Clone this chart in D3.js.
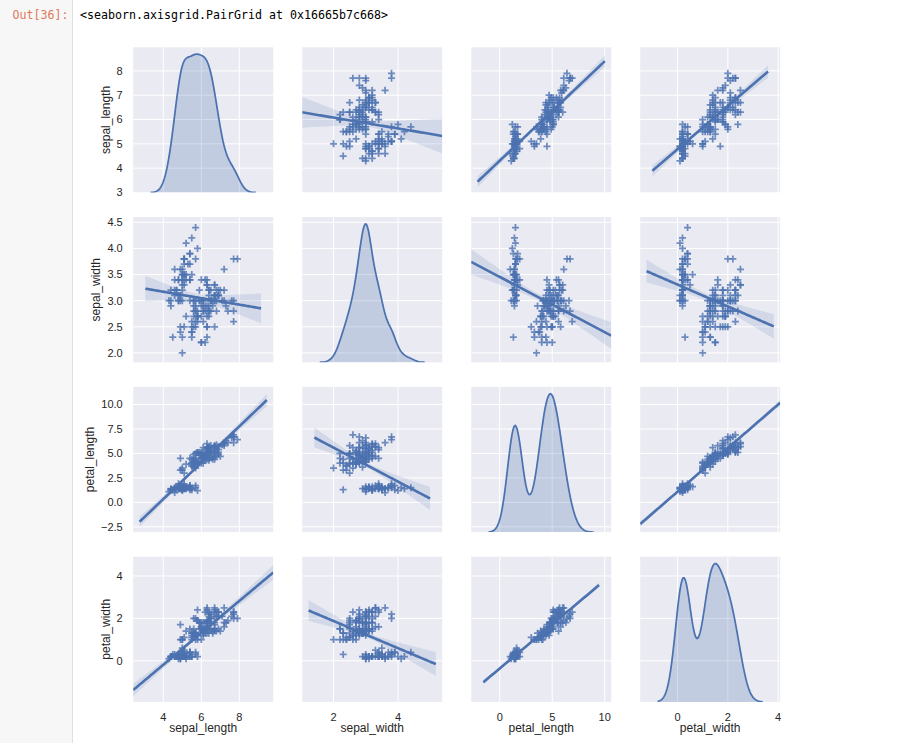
<!DOCTYPE html>
<html><head><meta charset="utf-8">
<script src="https://cdn.jsdelivr.net/npm/d3@7"></script>
<style>
body{margin:0;background:#fff;}
svg{display:block;}
text{font-family:"Liberation Sans",Arial,sans-serif;}
</style>
</head><body><svg id="c" width="913" height="743"></svg>
<script>
// ---------------- data (iris) ----------------
const sepal_length=[5.1,4.9,4.7,4.6,5.0,5.4,4.6,5.0,4.4,4.9,5.4,4.8,4.8,4.3,5.8,5.7,5.4,5.1,5.7,5.1,5.4,5.1,4.6,5.1,4.8,5.0,5.0,5.2,5.2,4.7,4.8,5.4,5.2,5.5,4.9,5.0,5.5,4.9,4.4,5.1,5.0,4.5,4.4,5.0,5.1,4.8,5.1,4.6,5.3,5.0,
7.0,6.4,6.9,5.5,6.5,5.7,6.3,4.9,6.6,5.2,5.0,5.9,6.0,6.1,5.6,6.7,5.6,5.8,6.2,5.6,5.9,6.1,6.3,6.1,6.4,6.6,6.8,6.7,6.0,5.7,5.5,5.5,5.8,6.0,5.4,6.0,6.7,6.3,5.6,5.5,5.5,6.1,5.8,5.0,5.6,5.7,5.7,6.2,5.1,5.7,
6.3,5.8,7.1,6.3,6.5,7.6,4.9,7.3,6.7,7.2,6.5,6.4,6.8,5.7,5.8,6.4,6.5,7.7,7.7,6.0,6.9,5.6,7.7,6.3,6.7,7.2,6.2,6.1,6.4,7.2,7.4,7.9,6.4,6.3,6.1,7.7,6.3,6.4,6.0,6.9,6.7,6.9,5.8,6.8,6.7,6.7,6.3,6.5,6.2,5.9];
const sepal_width=[3.5,3.0,3.2,3.1,3.6,3.9,3.4,3.4,2.9,3.1,3.7,3.4,3.0,3.0,4.0,4.4,3.9,3.5,3.8,3.8,3.4,3.7,3.6,3.3,3.4,3.0,3.4,3.5,3.4,3.2,3.1,3.4,4.1,4.2,3.1,3.2,3.5,3.6,3.0,3.4,3.5,2.3,3.2,3.5,3.8,3.0,3.8,3.2,3.7,3.3,
3.2,3.2,3.1,2.3,2.8,2.8,3.3,2.4,2.9,2.7,2.0,3.0,2.2,2.9,2.9,3.1,3.0,2.7,2.2,2.5,3.2,2.8,2.5,2.8,2.9,3.0,2.8,3.0,2.9,2.6,2.4,2.4,2.7,2.7,3.0,3.4,3.1,2.3,3.0,2.5,2.6,3.0,2.6,2.3,2.7,3.0,2.9,2.9,2.5,2.8,
3.3,2.7,3.0,2.9,3.0,3.0,2.5,2.9,2.5,3.6,3.2,2.7,3.0,2.5,2.8,3.2,3.0,3.8,2.6,2.2,3.2,2.8,2.8,2.7,3.3,3.2,2.8,3.0,2.8,3.0,2.8,3.8,2.8,2.8,2.6,3.0,3.4,3.1,3.0,3.1,3.1,3.1,2.7,3.2,3.3,3.0,2.5,3.0,3.4,3.0];
const petal_length=[1.4,1.4,1.3,1.5,1.4,1.7,1.4,1.5,1.4,1.5,1.5,1.6,1.4,1.1,1.2,1.5,1.3,1.4,1.7,1.5,1.7,1.5,1.0,1.7,1.9,1.6,1.6,1.5,1.4,1.6,1.6,1.5,1.5,1.4,1.5,1.2,1.3,1.4,1.3,1.5,1.3,1.3,1.3,1.6,1.9,1.4,1.6,1.4,1.5,1.4,
4.7,4.5,4.9,4.0,4.6,4.5,4.7,3.3,4.6,3.9,3.5,4.2,4.0,4.7,3.6,4.4,4.5,4.1,4.5,3.9,4.8,4.0,4.9,4.7,4.3,4.4,4.8,5.0,4.5,3.5,3.8,3.7,3.9,5.1,4.5,4.5,4.7,4.4,4.1,4.0,4.4,4.6,4.0,3.3,4.2,4.2,4.2,4.3,3.0,4.1,
6.0,5.1,5.9,5.6,5.8,6.6,4.5,6.3,5.8,6.1,5.1,5.3,5.5,5.0,5.1,5.3,5.5,6.7,6.9,5.0,5.7,4.9,6.7,4.9,5.7,6.0,4.8,4.9,5.6,5.8,6.1,6.4,5.6,5.1,5.6,6.1,5.6,5.5,4.8,5.4,5.6,5.1,5.1,5.9,5.7,5.2,5.0,5.2,5.4,5.1];
const petal_width=[0.2,0.2,0.2,0.2,0.2,0.4,0.3,0.2,0.2,0.1,0.2,0.2,0.1,0.1,0.2,0.4,0.4,0.3,0.3,0.3,0.2,0.4,0.2,0.5,0.2,0.2,0.4,0.2,0.2,0.2,0.2,0.4,0.1,0.2,0.2,0.2,0.2,0.1,0.2,0.2,0.3,0.3,0.2,0.6,0.4,0.3,0.2,0.2,0.2,0.2,
1.4,1.5,1.5,1.3,1.5,1.3,1.6,1.0,1.3,1.4,1.0,1.5,1.0,1.4,1.3,1.4,1.5,1.0,1.5,1.1,1.8,1.3,1.5,1.2,1.3,1.4,1.4,1.7,1.5,1.0,1.1,1.0,1.2,1.6,1.5,1.6,1.5,1.3,1.3,1.3,1.2,1.4,1.2,1.0,1.3,1.2,1.3,1.3,1.1,1.3,
2.5,1.9,2.1,1.8,2.2,2.1,1.7,1.8,1.8,2.5,2.0,1.9,2.1,2.0,2.4,2.3,1.8,2.2,2.3,1.5,2.3,2.0,2.0,1.8,2.1,1.8,1.8,1.8,2.1,1.6,1.9,2.0,2.2,1.5,1.4,2.3,2.4,1.8,1.8,2.1,2.4,2.3,1.9,2.3,2.5,2.3,1.9,2.0,2.3,1.8];

const varNames=["sepal_length","sepal_width","petal_length","petal_width"];
const xTickValues=[[4,6,8],[2,4],[0,5,10],[0,2,4]];
const yTickValues=[[3,4,5,6,7,8],[2.0,2.5,3.0,3.5,4.0,4.5],[-2.5,0.0,2.5,5.0,7.5,10.0],[0,2,4]];
const yTickDecimals=[0,1,1,0];
const rowLimits=[[3.0,8.97],[1.82,4.60],[-3.04,11.80],[-1.94,4.91]];
const promptText="Out[36]:";
const reprText="<seaborn.axisgrid.PairGrid at 0x16665b7c668>";

// ---------------- styling / layout ----------------
const BLUE="#4C72B0", BG="#EAEAF2", TXT="#262626";
const left0=133.2, colStep=169, W=140, top0=47.3, rowStep=169.8, H=145.2;

const svg=d3.select("#c");
// Jupyter chrome
svg.append("rect").attr("x",0).attr("y",0).attr("width",72).attr("height",743).attr("fill","#f7f7f7");
svg.append("line").attr("x1",72.5).attr("x2",72.5).attr("y1",0).attr("y2",743).attr("stroke","#e0e0e0");
svg.append("text").attr("x",12.5).attr("y",18.5).style("font-family","'DejaVu Sans Mono',monospace")
  .attr("font-size",12.5).attr("fill","#E0775A").attr("textLength",56).attr("lengthAdjust","spacingAndGlyphs").text(promptText);
svg.append("text").attr("x",80).attr("y",18.5).style("font-family","'DejaVu Sans Mono',monospace")
  .attr("font-size",12.5).attr("fill","#000").attr("textLength",308).attr("lengthAdjust","spacingAndGlyphs").text(reprText);

// ---------------- stats ----------------
const data=[sepal_length,sepal_width,petal_length,petal_width];
function bwScott(a){
  const s=a.slice().sort((p,q)=>p-q);
  const iqr=(d3.quantileSorted(s,0.75)-d3.quantileSorted(s,0.25))/1.349;
  return 1.059*Math.min(d3.deviation(a),iqr)*Math.pow(a.length,-0.2);
}
function kde(a){
  const bw=bwScott(a), lo=d3.min(a)-3*bw, hi=d3.max(a)+3*bw;
  return d3.range(100).map(k=>{const x=lo+(hi-lo)*k/99;
    return [x,d3.mean(a,v=>Math.exp(-0.5*((x-v)/bw)**2))/(bw*Math.sqrt(2*Math.PI))];});
}
function ols(x,y){
  const n=x.length,mx=d3.mean(x),my=d3.mean(y);let sxx=0,sxy=0;
  for(let k=0;k<n;k++){sxx+=(x[k]-mx)**2;sxy+=(x[k]-mx)*(y[k]-my);}
  const b=sxy/sxx,a=my-b*mx;let sse=0;
  for(let k=0;k<n;k++)sse+=(y[k]-a-b*x[k])**2;
  return {a,b,mx,sxx,n,s:Math.sqrt(sse/(n-2))};
}
const kdes=data.map(kde);

// x-limits as seaborn's regplot evolves them (line spans current limits, then 5% margin)
const order=[[1,0],[2,0],[2,1],[3,0],[3,1],[3,2],[0,1],[0,2],[0,3],[1,2],[1,3],[2,3]];
let curLim=kdes.map(k=>{const lo=k[0][0],hi=k[k.length-1][0],m=0.05*(hi-lo);return [lo-m,hi+m];});
const spans={}, colDomain=[];
order.forEach(([i,j])=>{const L=curLim[j];spans[i+"_"+j]=L.slice();colDomain[j]=L.slice();
  const m=0.05*(L[1]-L[0]);curLim[j]=[L[0]-m,L[1]+m];});

const defs=svg.append("defs");
const f0=d3.format(".0f"), f1=d3.format(".1f");
const plus="M-3.5,0H3.5M0,-3.5V3.5";

for(let i=0;i<4;i++){
  for(let j=0;j<4;j++){
    const L=left0+j*colStep, T=top0+i*rowStep;
    const x=d3.scaleLinear().domain(colDomain[j]).range([L,L+W]);
    const y=d3.scaleLinear().domain(rowLimits[i]).range([T+H,T]);
    const cid="clip"+i+j;
    defs.append("clipPath").attr("id",cid).append("rect").attr("x",L).attr("y",T).attr("width",W).attr("height",H);
    const g=svg.append("g");
    g.append("rect").attr("x",L).attr("y",T).attr("width",W).attr("height",H).attr("fill",BG);
    const pg=g.append("g").attr("clip-path",`url(#${cid})`);
    xTickValues[j].filter(v=>v>=colDomain[j][0]&&v<=colDomain[j][1]).forEach(v=>{
      pg.append("line").attr("x1",x(v)).attr("x2",x(v)).attr("y1",T).attr("y2",T+H).attr("stroke","#fff").attr("stroke-width",1);});
    yTickValues[i].filter(v=>v>=rowLimits[i][0]-0.01&&v<=rowLimits[i][1]).forEach(v=>{
      pg.append("line").attr("x1",L).attr("x2",L+W).attr("y1",y(v)).attr("y2",y(v)).attr("stroke","#fff").attr("stroke-width",1);});
    if(i===j){
      const k=kdes[i];
      const yk=d3.scaleLinear().domain([0,1.05*d3.max(k,d=>d[1])]).range([T+H,T]);
      pg.append("path").datum(k).attr("fill",BLUE).attr("fill-opacity",0.25)
        .attr("d",d3.area().x(d=>x(d[0])).y0(yk(0)).y1(d=>yk(d[1])));
      pg.append("path").datum(k).attr("fill","none").attr("stroke",BLUE).attr("stroke-width",1.75)
        .attr("d",d3.line().x(d=>x(d[0])).y(d=>yk(d[1])));
    } else {
      const xs=data[j], ys=data[i];
      pg.append("g").selectAll("path").data(d3.range(xs.length)).join("path")
        .attr("d",plus).attr("transform",k=>`translate(${x(xs[k])},${y(ys[k])})`)
        .attr("fill","none").attr("stroke",BLUE).attr("stroke-width",1.75).attr("stroke-opacity",0.8);
      const r=ols(xs,ys), sp=spans[i+"_"+j];
      const grid=d3.range(100).map(k=>sp[0]+(sp[1]-sp[0])*k/99);
      const pts=grid.map(v=>{const yh=r.a+r.b*v,h=1.96*r.s*Math.sqrt(1/r.n+(v-r.mx)**2/r.sxx);return [v,yh,yh-h,yh+h];});
      pg.append("path").datum(pts).attr("fill",BLUE).attr("fill-opacity",0.15)
        .attr("d",d3.area().x(d=>x(d[0])).y0(d=>y(d[2])).y1(d=>y(d[3])));
      pg.append("path").datum(pts).attr("fill","none").attr("stroke",BLUE).attr("stroke-width",2.625)
        .attr("d",d3.line().x(d=>x(d[0])).y(d=>y(d[1])));
    }
    // tick labels
    if(j===0){
      const fmt=yTickDecimals[i]?f1:f0;
      const lab=g.append("g");
      yTickValues[i].filter(v=>v>=rowLimits[i][0]-0.01&&v<=rowLimits[i][1]).forEach(v=>{
        lab.append("text").attr("x",L-10.5).attr("y",y(v)).attr("dy","0.35em").attr("text-anchor","end")
          .attr("font-size",11).attr("fill",TXT).text(fmt(v));});
      const bb=lab.node().getBBox();
      g.append("text").attr("transform",`translate(${bb.x-7},${T+H/2}) rotate(-90)`).attr("text-anchor","middle")
        .attr("font-size",12).attr("fill",TXT).text(varNames[i]);
    }
    if(i===3){
      xTickValues[j].filter(v=>v>=colDomain[j][0]&&v<=colDomain[j][1]).forEach(v=>{
        g.append("text").attr("x",x(v)).attr("y",T+H+18.6).attr("text-anchor","middle")
          .attr("font-size",11).attr("fill",TXT).text(f0(v));});
      g.append("text").attr("x",L+W/2).attr("y",T+H+29.8).attr("text-anchor","middle")
        .attr("font-size",12).attr("fill",TXT).text(varNames[j]);
    }
  }
}
</script>
</body></html>
